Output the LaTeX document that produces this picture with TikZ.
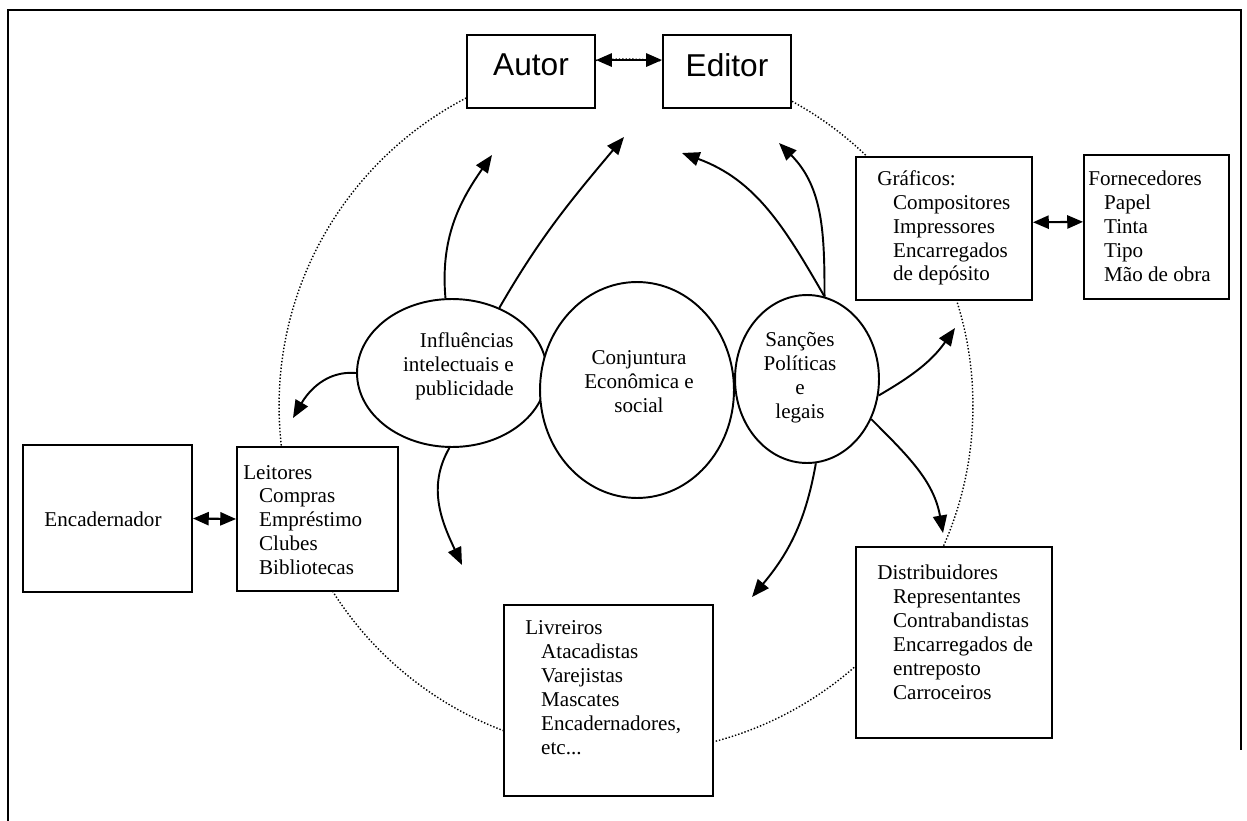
\documentclass[tikz,border=0pt]{standalone}
\usepackage{fontspec}
\setmainfont{Liberation Serif}
\newfontfamily\arialfont{Liberation Sans}
\usetikzlibrary{arrows.meta}
\usetikzlibrary{shapes.geometric}

\tikzset{
  box/.style={draw, fill=white, line width=1.1pt, inner sep=0pt},
  blob/.style={ellipse, draw, fill=white, line width=1.1pt, inner sep=0pt},
  txt/.style={inner sep=0pt, font=\fontsize{12}{13.6}\selectfont},
  flow/.style={line width=1.1pt, -{Triangle[length=10pt,width=8pt]}},
  twoway/.style={line width=1.2pt, {Triangle[length=9pt,width=7.5pt]}-{Triangle[length=9pt,width=7.5pt]}},
}
\newcommand{\ind}{\hspace*{9pt}}

\begin{document}
\begin{tikzpicture}[x=0.02cm, y=-0.02cm]
\useasboundingbox (0,0) rectangle (1247,821);

% frame
\draw[line width=0.9pt] (8,821) -- (8,10) -- (1241,10) -- (1241,750);

% dotted ring
\draw[line width=0.8pt, dash pattern=on 0.8pt off 1.1pt] (626,406) circle[radius=6.94cm];

% boxes
\node[box, minimum width=2.56cm, minimum height=1.46cm, text depth=7.4pt,
  font=\arialfont\fontsize{18}{20}\selectfont] (autor) at (531,71.5) {Autor};
\node[box, minimum width=2.56cm, minimum height=1.46cm, text depth=7.4pt,
  font=\arialfont\fontsize{18}{20}\selectfont] (editor) at (727,71.5) {Editor};
\node[box, minimum width=3.52cm, minimum height=2.86cm] (graf) at (944,228.5) {};
\node[box, minimum width=2.9cm, minimum height=2.88cm] (forn) at (1156.5,227) {};
\node[box, minimum width=3.22cm, minimum height=2.88cm] (leit) at (317.5,519) {};
\node[box, minimum width=3.38cm, minimum height=2.94cm] (encad) at (107.5,518.5) {};
\node[box, minimum width=4.18cm, minimum height=3.82cm] (livr) at (608.5,700.5) {};
\node[box, minimum width=3.92cm, minimum height=3.82cm] (distr) at (954,642.5) {};

% box texts
\node[txt, anchor=west, align=left] (graftxt) at (877,228)
  {Gráficos:\\\ind Compositores\\\ind Impressores\\\ind Encarregados\\\ind de depósito};
\node[txt, anchor=west, align=left] (forntxt) at (1088,226)
  {Fornecedores\\\ind Papel\\\ind Tinta\\\ind Tipo\\\ind Mão de obra};
\node[txt, anchor=west, align=left] (leittxt) at (243,520)
  {Leitores\\\ind Compras\\\ind Empréstimo\\\ind Clubes\\\ind Bibliotecas};
\node[txt] (encadtxt) at (103,519) {Encadernador};
\node[txt, anchor=west, align=left] (livrtxt) at (525,687.5)
  {Livreiros\\\ind Atacadistas\\\ind Varejistas\\\ind Mascates\\\ind Encadernadores,\\\ind etc...};
\node[txt, anchor=west, align=left] (distrtxt) at (877,632.5)
  {Distribuidores\\\ind Representantes\\\ind Contrabandistas\\\ind Encarregados de\\\ind entreposto\\\ind Carroceiros};

% ellipses
\node[blob, minimum width=3.8cm, minimum height=2.96cm] (infl) at (452,373) {};
\node[blob, minimum width=2.88cm, minimum height=3.36cm] (sanc) at (807,379) {};
\node[blob, minimum width=3.88cm, minimum height=4.32cm] (conj) at (637,390) {};
\node[txt, anchor=east, align=right] (infltxt) at (514,366) {Influências\\intelectuais e\\publicidade};
\node[txt, align=center] (conjtxt) at (639,382) {Conjuntura\\Econômica e\\social};
\node[txt, align=center] (sanctxt) at (800,378) {Sanções\\Políticas\\e\\legais};

% two-way links
\draw[twoway] (autor.10) -- (editor.170);
\draw[twoway] (graf.4) -- (forn.176);
\draw[twoway] (encad.east) -- (leit.west);

% free arrow tips
\coordinate (t1) at (492,155);
\coordinate (t2) at (624,137);
\coordinate (t3) at (682,153);
\coordinate (t4) at (779,143);
\coordinate (t5) at (293,418);
\coordinate (t6) at (462,565);
\coordinate (t7) at (752,597);
\coordinate (t8) at (955,328);
\coordinate (t9) at (943,533);

\draw[flow] (infl.95) to[out=95,in=235] (t1);
\draw[flow] (infl.54) to[out=60,in=230] (t2);
\draw[flow] (sanc.78) to[out=120,in=-20] (t3);
\draw[flow] (sanc.78) to[out=90,in=-45] (t4);
\draw[flow] (infl.180) to[out=175,in=60] (t5);
\draw[flow] (infl.268) to[out=240,in=115] (t6);
\draw[flow] (sanc.276) to[out=260,in=50] (t7);
\draw[flow] (sanc.347) to[out=30,in=235] (t8);
\draw[flow] (sanc.328) to[out=-45,in=100] (t9);
\end{tikzpicture}
\end{document}
